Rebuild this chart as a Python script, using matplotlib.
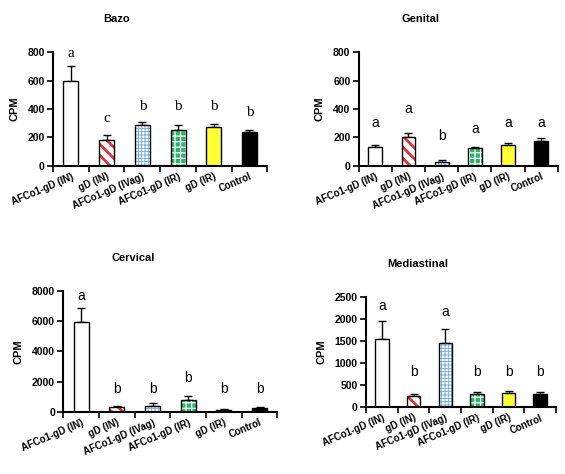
import numpy as np
import matplotlib.pyplot as plt

groups = ['AFCo1-gD (IN)', 'gD (IN)', 'AFCo1-gD (IVag)', 'AFCo1-gD (IR)', 'gD (IR)', 'Control']

bazo_vals = [600, 185, 290, 255, 275, 235]
bazo_err = [100, 35, 20, 35, 20, 20]
bazo_letters = ['a', 'c', 'b', 'b', 'b', 'b']
bazo_letter_y = [745, 290, 375, 375, 375, 330]

genital_vals = [135, 200, 30, 125, 150, 175]
genital_err = [15, 30, 10, 8, 12, 22]
genital_letters = ['a', 'a', 'b', 'a', 'a', 'a']
genital_letter_y = [255, 350, 160, 210, 255, 255]

cervical_vals = [5950, 300, 400, 800, 150, 250]
cervical_err = [950, 120, 170, 250, 50, 60]
cervical_letters = ['a', 'b', 'b', 'b', 'b', 'b']
cervical_letter_y = [7200, 1050, 1050, 1750, 1050, 1050]

med_vals = [1540, 245, 1460, 305, 330, 310]
med_err = [420, 60, 320, 40, 40, 35]
med_letters = ['a', 'b', 'a', 'b', 'b', 'b']
med_letter_y = [2150, 650, 2000, 650, 650, 650]

faces = ['white', 'white', 'white', '#2db36b', '#ffff33', 'black']
hatches = [None, '\\\\\\', '+++++', '+++', None, None]
hatch_cols = [None, '#e0303c', '#6fa8dc', 'white', None, None]
hatch_lw = [1, 2.0, 0.6, 0.9, 1, 1]


def panel(rect, title, tx, vals, err, letters, ly, ymax, ystep, serif=False):
    ax = fig.add_axes(rect)
    x = np.arange(len(groups))
    for i in range(len(groups)):
        if hatches[i]:
            with plt.rc_context({'hatch.linewidth': hatch_lw[i]}):
                ax.bar(x[i], vals[i], 0.42, color=faces[i], edgecolor=hatch_cols[i],
                       hatch=hatches[i], linewidth=0, zorder=2)
            ax.bar(x[i], vals[i], 0.42, fill=False, edgecolor='black', linewidth=1, zorder=3)
        else:
            ax.bar(x[i], vals[i], 0.42, color=faces[i], edgecolor='black', linewidth=1, zorder=2)
    ax.errorbar(x, vals, yerr=[np.zeros(len(vals)), err], fmt='none', ecolor='black',
                elinewidth=1, capsize=3, capthick=1, zorder=1)
    fam = 'Liberation Serif' if serif else 'Liberation Sans'
    fs = 11 if serif else 10
    for i, l in enumerate(letters):
        ax.text(x[i], ly[i], l, ha='center', va='bottom', fontsize=fs, family=fam)
    ax.set_xlim(-0.5, len(groups) - 0.5)
    ax.set_ylim(0, ymax)
    ax.set_yticks(np.arange(0, ymax + 1, ystep))
    ax.set_xticks(np.arange(-0.5, len(groups), 1.0))
    ax.set_xticklabels([])
    ax.set_xticks(x, minor=True)
    ax.set_xticklabels(groups, minor=True, rotation=23, ha='right', rotation_mode='anchor',
                       fontsize=7, fontweight='bold', family='Liberation Sans')
    ax.tick_params(axis='x', which='minor', length=0, pad=4)
    ax.tick_params(axis='x', which='major', length=4, width=1.2, direction='out')
    ax.tick_params(axis='y', length=4, width=1.2, labelsize=7.5, pad=2)
    for t in ax.get_yticklabels():
        t.set_fontweight('bold')
        t.set_family('Liberation Sans')
    for s in ['top', 'right']:
        ax.spines[s].set_visible(False)
    for s in ['left', 'bottom']:
        ax.spines[s].set_linewidth(1.5)
    ax.set_ylabel('CPM', fontsize=8, fontweight='bold', family='Liberation Sans', labelpad=6)
    top = rect[1] + rect[3]
    fig.text(tx, top + 0.07, title, ha='center', va='center', fontsize=8,
             fontweight='bold', family='Liberation Sans')
    return ax


fig = plt.figure(figsize=(5.65, 4.74), dpi=100)
panel([0.094, 0.650, 0.379, 0.240], 'Bazo', 117 / 565, bazo_vals, bazo_err,
      bazo_letters, bazo_letter_y, 800, 200, serif=True)
panel([0.635, 0.650, 0.352, 0.240], 'Genital', 420 / 565, genital_vals, genital_err,
      genital_letters, genital_letter_y, 800, 200)
panel([0.112, 0.131, 0.379, 0.255], 'Cervical', 133 / 565, cervical_vals, cervical_err,
      cervical_letters, cervical_letter_y, 8000, 2000)
panel([0.648, 0.141, 0.336, 0.232], 'Mediastinal', 418 / 565, med_vals, med_err,
      med_letters, med_letter_y, 2500, 500)

fig.savefig('out.png', dpi=100)
